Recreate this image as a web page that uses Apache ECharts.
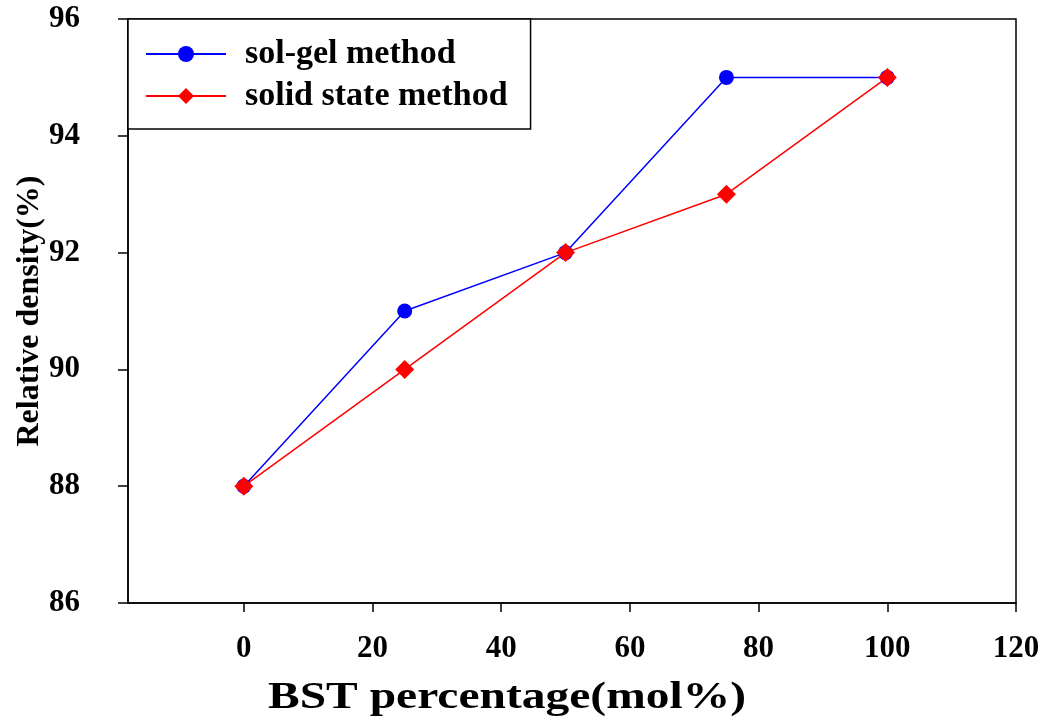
<!DOCTYPE html>
<html><head><meta charset="utf-8">
<script src="https://cdn.jsdelivr.net/npm/echarts@6/dist/echarts.min.js"></script>
<style>html,body{margin:0;padding:0;background:#fff}#c{width:1047px;height:723px}</style>
</head><body><div id="c"></div>
<script>
const xValues = [0, 25, 50, 75, 100];
const solGel = [88, 91, 92, 95, 95];
const solidState = [88, 90, 92, 93, 95];
const xTicks = [0, 20, 40, 60, 80, 100, 120];
const seriesNames = ['sol-gel method', 'solid state method'];
const xTitle = 'BST percentage(mol%)';
const yTitle = 'Relative density(%)';

const font = 'Liberation Serif';
const chart = echarts.init(document.getElementById('c'), null, {renderer: 'canvas'});
chart.setOption({
  animation: false,
  backgroundColor: '#fff',
  grid: {left: 128, right: 31, top: 19, bottom: 120, show: true, borderColor: '#000', borderWidth: 1.5, backgroundColor: 'transparent'},
  legend: {
    left: 128, top: 19, orient: 'vertical',
    backgroundColor: '#fff',
    borderColor: '#000', borderWidth: 1.5, borderRadius: 0,
    padding: [18, 23, 16, 17],
    itemGap: 8, itemWidth: 80, itemHeight: 20,
    textStyle: {fontFamily: font, fontWeight: 'bold', fontSize: 34, color: '#000', padding: [0, 0, 0, 14], lineHeight: 34},
    data: seriesNames
  },
  xAxis: {
    type: 'value', min: -18, max: 120,
    axisLine: {onZero: false, lineStyle: {color: '#000', width: 1.5}},
    axisTick: {show: true, length: 9, lineStyle: {color: '#000', width: 1.5}, customValues: xTicks},
    axisLabel: {fontFamily: font, fontWeight: 'bold', fontSize: 31, color: '#000', margin: 30, customValues: xTicks},
    splitLine: {show: false}
  },
  yAxis: {
    type: 'value', min: 86, max: 96, interval: 2,
    axisLine: {show: true, onZero: false, lineStyle: {color: '#000', width: 1.5}},
    axisTick: {show: true, length: 10, lineStyle: {color: '#000', width: 1.5}},
    axisLabel: {fontFamily: font, fontWeight: 'bold', fontSize: 31, color: '#000', margin: 48},
    splitLine: {show: false}
  },
  graphic: [
    {type: 'text', x: 507, y: 698, scaleX: 1.25, style: {text: xTitle, font: 'bold 38px "Liberation Serif"', fill: '#000', align: 'center', verticalAlign: 'middle'}},
    {type: 'text', x: 30, y: 311, rotation: Math.PI / 2, style: {text: yTitle, font: 'bold 32px "Liberation Serif"', fill: '#000', align: 'center', verticalAlign: 'middle'}}
  ],
  series: [
    {name: seriesNames[0], type: 'line', data: xValues.map((x, i) => [x, solGel[i]]),
     symbol: 'circle', symbolSize: 15, color: '#0000ff',
     lineStyle: {color: '#0000ff', width: 1.5}, itemStyle: {color: '#0000ff'}},
    {name: seriesNames[1], type: 'line', data: xValues.map((x, i) => [x, solidState[i]]),
     symbol: 'diamond', symbolSize: 19, color: '#ff0000',
     lineStyle: {color: '#ff0000', width: 1.5}, itemStyle: {color: '#ff0000'}}
  ]
});
</script></body></html>
